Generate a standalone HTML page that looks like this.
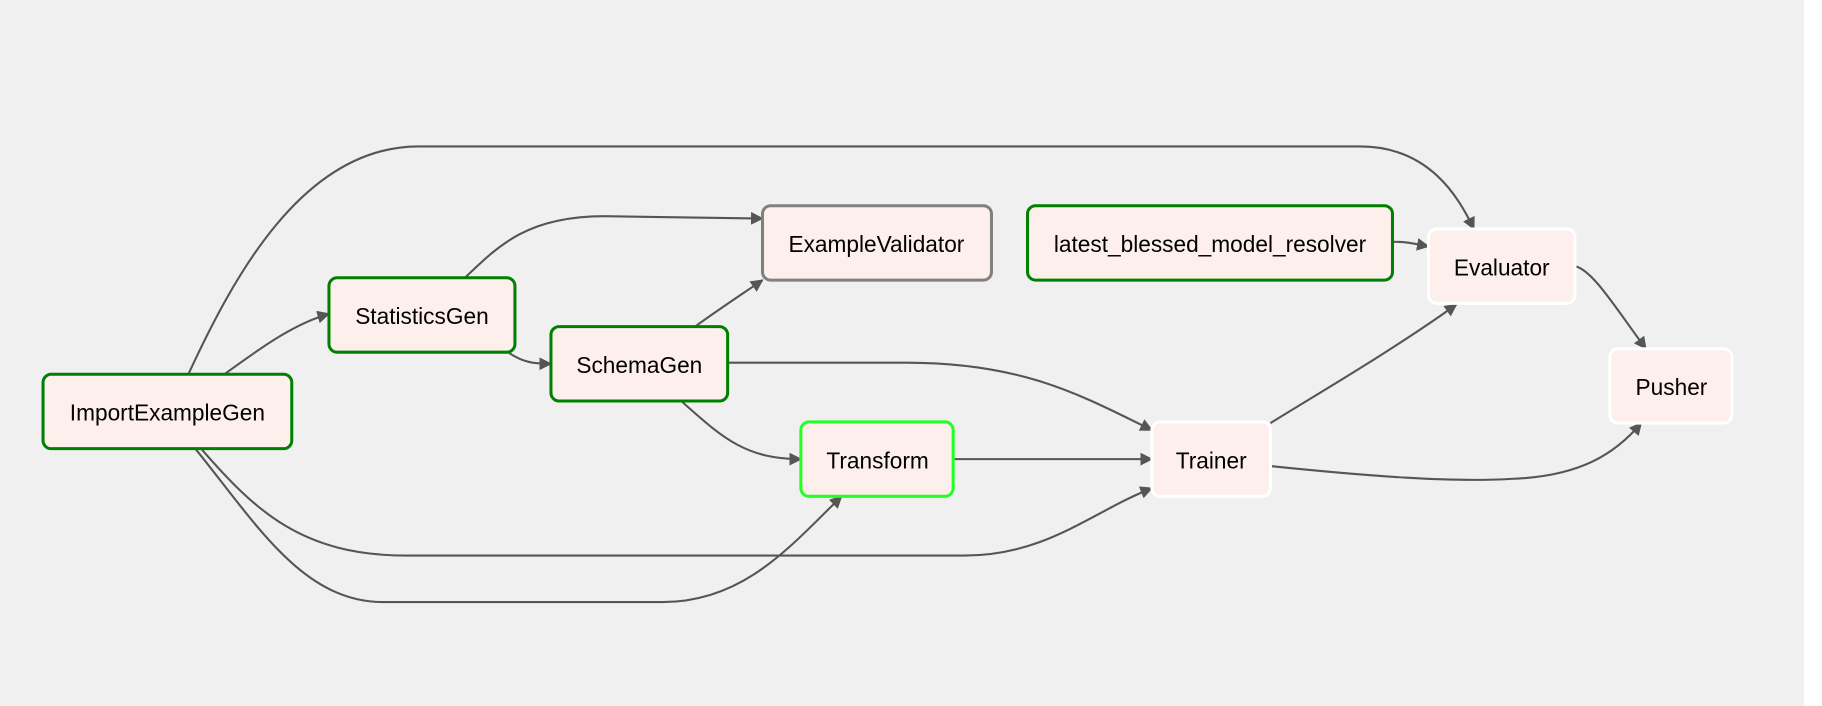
<!DOCTYPE html>
<html><head><meta charset="utf-8"><style>
html,body{margin:0;padding:0;background:#fff;}
svg{display:block;}
text{font-family:"Liberation Sans",Arial,sans-serif;font-size:19.5px;fill:#000;text-anchor:middle;dominant-baseline:central;}
.n{fill:#fdefeb;stroke-width:2.6;}
.e{fill:none;stroke:#555;stroke-width:1.8;marker-end:url(#a);}
</style></head><body>
<svg width="1822" height="706" viewBox="0 0 1567.5 607.4" xmlns="http://www.w3.org/2000/svg">
<defs><marker id="a" viewBox="0 0 10 10" refX="9" refY="5" markerWidth="11" markerHeight="11" markerUnits="userSpaceOnUse" orient="auto"><path d="M0,0 L10,5 L0,10 z" fill="#555"/></marker></defs>
<rect x="0" y="0" width="1552" height="607.4" fill="#f0f0f0"/>
<path class="e" d="M162,322 C200,240 260,126 360,126 L1170,126 C1230,126 1255,170 1268,197"/>
<path class="e" d="M193,322 C230,295 255,278 283,270"/>
<path class="e" d="M400,239 C430,210 455,186 520,186 L656,188"/>
<path class="e" d="M437,303 C450,312 460,313 474,313"/>
<path class="e" d="M598,281 C620,265 640,252 656,241"/>
<path class="e" d="M626,312 L780,312 C880,312 930,340 991,370"/>
<path class="e" d="M586,345 C620,375 640,395 689,395"/>
<path class="e" d="M820,395 L991,395"/>
<path class="e" d="M173,386 C220,440 260,478 350,478 L830,478 C900,478 940,440 991,420"/>
<path class="e" d="M168,386 C220,450 260,518 330,518 L570,518 C640,518 680,470 724,427"/>
<path class="e" d="M1198,208 C1212,208 1218,210 1229,212"/>
<path class="e" d="M1093,364 C1140,335 1200,300 1253,262"/>
<path class="e" d="M1355,229 C1370,232 1390,265 1416,300"/>
<path class="e" d="M1093,401 C1180,410 1250,415 1300,412 C1360,410 1390,390 1412,364"/>

<rect class="n" x="37" y="322" width="214" height="64" rx="7" stroke="#008000"/>
<text x="144" y="355">ImportExampleGen</text>
<rect class="n" x="283" y="239" width="160" height="64" rx="7" stroke="#008000"/>
<text x="363" y="272">StatisticsGen</text>
<rect class="n" x="474" y="281" width="152" height="64" rx="7" stroke="#008000"/>
<text x="550" y="314">SchemaGen</text>
<rect class="n" x="656" y="177" width="197" height="64" rx="7" stroke="#808080"/>
<text x="754" y="210">ExampleValidator</text>
<rect class="n" x="689" y="363" width="131" height="64" rx="7" stroke="#22ff22"/>
<text x="755" y="396">Transform</text>
<rect class="n" x="884" y="177" width="314" height="64" rx="7" stroke="#008000"/>
<text x="1041" y="210">latest_blessed_model_resolver</text>
<rect class="n" x="1229" y="197" width="126" height="64" rx="7" stroke="#ffffff"/>
<text x="1292" y="230">Evaluator</text>
<rect class="n" x="991" y="363" width="102" height="64" rx="7" stroke="#ffffff"/>
<text x="1042" y="396">Trainer</text>
<rect class="n" x="1385" y="300" width="105" height="64" rx="7" stroke="#ffffff"/>
<text x="1438" y="333">Pusher</text>
</svg>
</body></html>
